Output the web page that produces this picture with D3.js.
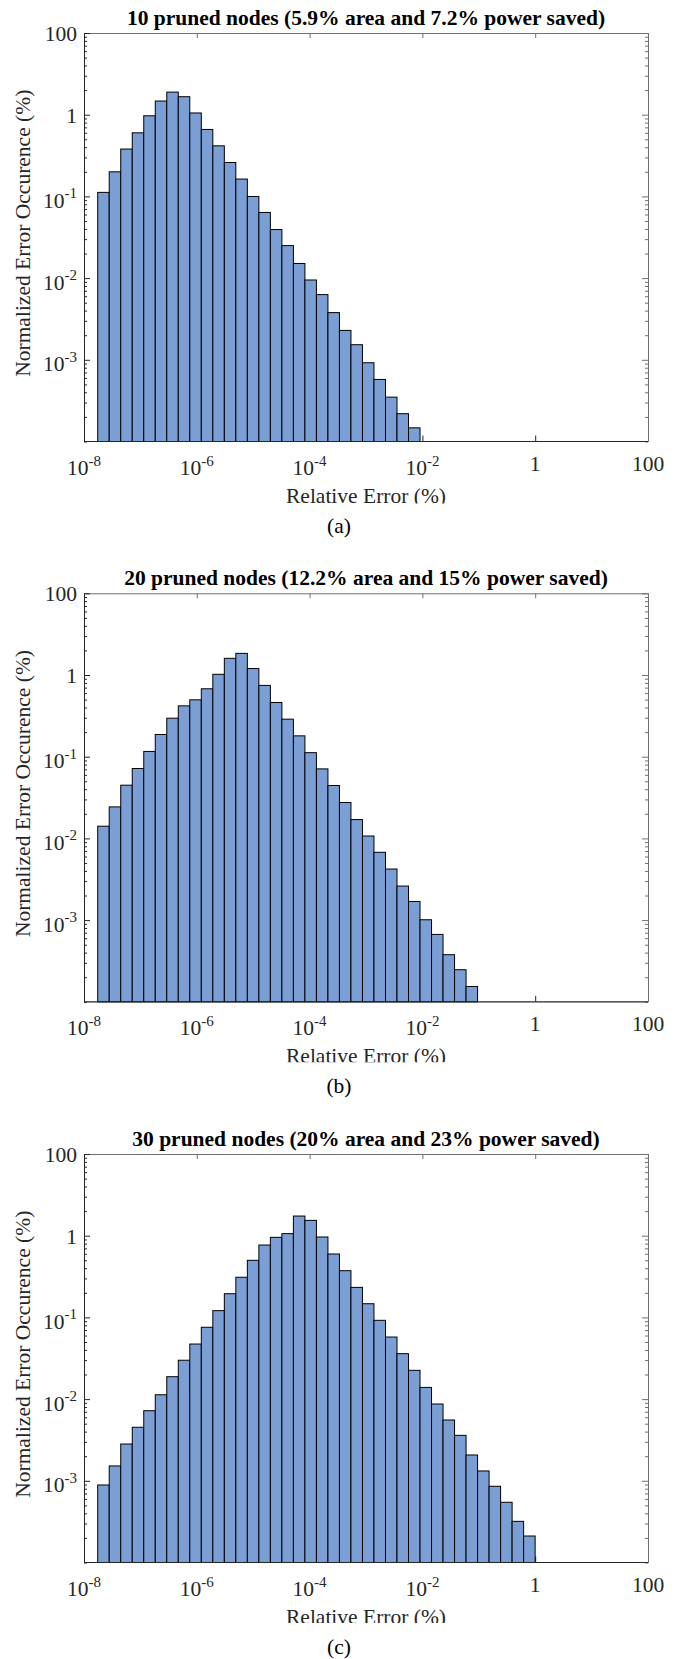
<!DOCTYPE html>
<html><head><meta charset="utf-8">
<script src="https://cdn.jsdelivr.net/npm/d3@7"></script>
<style>body{margin:0;background:#fff}svg{display:block}</style>
</head><body>
<script>
// ---------- data ----------
const titles = [
  "10 pruned nodes (5.9% area and 7.2% power saved)",
  "20 pruned nodes (12.2% area and 15% power saved)",
  "30 pruned nodes (20% area and 23% power saved)"
];
const captions = ["(a)", "(b)", "(c)"];
const xLabel = "Relative Error (%)";
const yLabel = "Normalized Error Occurence (%)";
const xTickValues = [1e-8, 1e-6, 1e-4, 1e-2, 1, 100];
const xTickLabels = ["10^-8", "10^-6", "10^-4", "10^-2", "1", "100"];
const yTickValues = [1e-3, 1e-2, 1e-1, 1, 10];
const yTickLabels = ["10^-3", "10^-2", "10^-1", "1", "100"];
const xDomain = [1e-8, 100];
const yDomain = [1e-4, 10];
// histogram bins: log10 of first bin edge and bin width (decades)
const binStartExp = -7.757;
const binWidthExp = 0.2041;
const values1 = [0.112, 0.20, 0.38, 0.60, 0.97, 1.47, 1.89, 1.66, 1.05, 0.66, 0.416, 0.26, 0.163, 0.0998,
  0.0636, 0.0393, 0.025, 0.0151, 0.00948, 0.00628, 0.00378, 0.00229, 0.00153, 0.00092, 0.000575,
  0.000349, 0.000219, 0.000147];
const values2 = [0.0141, 0.0243, 0.0448, 0.0717, 0.116, 0.187, 0.296, 0.419, 0.497, 0.678, 1.02, 1.60,
  1.84, 1.20, 0.746, 0.461, 0.288, 0.180, 0.112, 0.0709, 0.0444, 0.0275, 0.0170, 0.0107, 0.00676,
  0.00422, 0.00261, 0.00169, 0.00101, 0.000668, 0.000377, 0.000247, 0.000154];
const values3 = [0.000889, 0.00152, 0.00282, 0.00452, 0.00721, 0.0113, 0.0188, 0.0299, 0.0472, 0.0757,
  0.121, 0.195, 0.310, 0.500, 0.769, 0.955, 1.06, 1.74, 1.54, 0.964, 0.597, 0.373, 0.233, 0.147,
  0.0921, 0.0575, 0.0360, 0.0225, 0.0139, 0.00871, 0.00555, 0.00360, 0.00207, 0.00132, 0.000857,
  0.000546, 0.000319, 0.000211];
const series = [values1, values2, values3];

// ---------- layout ----------
const W = 678, H = 1659;
const X0 = 84, X1 = 648;
const panelTops = [33, 593.3, 1154];
const PH = 408.5;
const labelClip = [62, 60.5, 60.5];
const serif = '"Liberation Serif","Times New Roman",serif';
const FS = 21.5, SUP = 15;
const barFill = "#7b9fd4";
const darkAxis = "#262626", lightAxis = "#707070";

const svg = d3.select("body").append("svg").attr("width", W).attr("height", H)
  .style("font-family", serif);

function addLabel(sel, label, supSize, rise) {
  const parts = label.split("^");
  sel.append("tspan").text(parts[0]);
  if (parts[1]) sel.append("tspan").attr("font-size", supSize).attr("dy", -rise).text(parts[1]);
}

const x = d3.scaleLog().domain(xDomain).range([X0, X1]);

series.forEach((vals, p) => {
  const top = panelTops[p], bottom = top + PH;
  const y = d3.scaleLog().domain(yDomain).range([bottom, top]);
  const g = svg.append("g");
  const minorY = y.ticks().filter(v => !yTickValues.some(t => Math.abs(Math.log10(v) - Math.log10(t)) < 1e-9));

  // bottom ticks (under bars)
  g.append("g").attr("transform", `translate(0,${bottom})`)
    .call(d3.axisBottom(x).tickValues(xTickValues).tickSizeInner(-6).tickSizeOuter(0).tickFormat(""))
    .call(a => a.select(".domain").remove())
    .call(a => a.selectAll("line").attr("stroke", darkAxis));

  // bars
  const bins = vals.map((v, i) => ({
    x0: Math.pow(10, binStartExp + i * binWidthExp),
    x1: Math.pow(10, binStartExp + (i + 1) * binWidthExp),
    v
  }));
  g.append("g").selectAll("rect").data(bins).join("rect")
    .attr("x", d => x(d.x0))
    .attr("width", d => x(d.x1) - x(d.x0))
    .attr("y", d => y(d.v))
    .attr("height", d => bottom - y(d.v))
    .attr("fill", barFill)
    .attr("stroke", "#000")
    .attr("stroke-width", 1);

  // top axis
  g.append("g").attr("transform", `translate(0,${top})`)
    .call(d3.axisTop(x).tickValues(xTickValues).tickSizeInner(-5).tickSizeOuter(0).tickFormat(""))
    .call(a => a.selectAll("line,path").attr("stroke", lightAxis));
  // right axis
  g.append("g").attr("transform", `translate(${X1},0)`)
    .call(d3.axisRight(y).tickValues(yTickValues).tickSizeInner(-6).tickSizeOuter(0).tickFormat(""))
    .call(a => a.selectAll("line,path").attr("stroke", lightAxis));
  g.append("g").attr("transform", `translate(${X1},0)`)
    .call(d3.axisRight(y).tickValues(minorY).tickSizeInner(-3).tickSizeOuter(0).tickFormat(""))
    .call(a => a.select(".domain").remove())
    .call(a => a.selectAll("line").attr("stroke", lightAxis));
  // left axis
  g.append("g").attr("transform", `translate(${X0},0)`)
    .call(d3.axisLeft(y).tickValues(yTickValues).tickSizeInner(-6).tickSizeOuter(0).tickFormat(""))
    .call(a => a.selectAll("line,path").attr("stroke", darkAxis));
  g.append("g").attr("transform", `translate(${X0},0)`)
    .call(d3.axisLeft(y).tickValues(minorY).tickSizeInner(-3).tickSizeOuter(0).tickFormat(""))
    .call(a => a.select(".domain").remove())
    .call(a => a.selectAll("line").attr("stroke", darkAxis));
  // bottom axis line
  g.append("line").attr("x1", X0).attr("x2", X1).attr("y1", bottom).attr("y2", bottom)
    .attr("stroke", darkAxis).attr("stroke-width", 1.2);

  // x tick labels
  xTickValues.forEach((t, i) => {
    const lab = xTickLabels[i];
    const t0 = g.append("text").attr("x", x(t)).attr("text-anchor", "middle")
      .attr("y", bottom + (lab.includes("^") ? 33.5 : 29))
      .attr("font-size", FS).attr("fill", "#262626");
    addLabel(t0, lab, SUP, 9);
  });
  // y tick labels
  yTickValues.forEach((t, i) => {
    const lab = yTickLabels[i];
    const t0 = g.append("text").attr("x", X0 - 7).attr("text-anchor", "end")
      .attr("y", y(t) + (lab.includes("^") ? 11.5 : 8))
      .attr("font-size", FS).attr("fill", "#262626");
    addLabel(t0, lab, SUP, 9.5);
  });

  // title
  g.append("text").attr("x", (X0 + X1) / 2).attr("y", top - 8).attr("text-anchor", "middle")
    .attr("font-size", FS).attr("font-weight", "bold").attr("fill", "#000").text(titles[p]);

  // y label
  g.append("text").attr("transform", `translate(30,${(top + bottom) / 2 - 4}) rotate(-90)`)
    .attr("text-anchor", "middle").attr("font-size", FS).attr("fill", "#262626").text(yLabel);

  // x label (clipped at bottom as in the original)
  const cid = "clip" + p;
  svg.append("clipPath").attr("id", cid).append("rect")
    .attr("x", 0).attr("y", bottom + 30).attr("width", W).attr("height", labelClip[p] - 30);
  g.append("text").attr("clip-path", `url(#${cid})`)
    .attr("x", (X0 + X1) / 2).attr("y", bottom + 61).attr("text-anchor", "middle")
    .attr("font-size", FS).attr("fill", "#262626").text(xLabel);

  // caption
  g.append("text").attr("x", W / 2).attr("y", bottom + 91.5).attr("text-anchor", "middle")
    .attr("font-size", FS).attr("fill", "#000").text(captions[p]);
});
</script>
</body></html>
